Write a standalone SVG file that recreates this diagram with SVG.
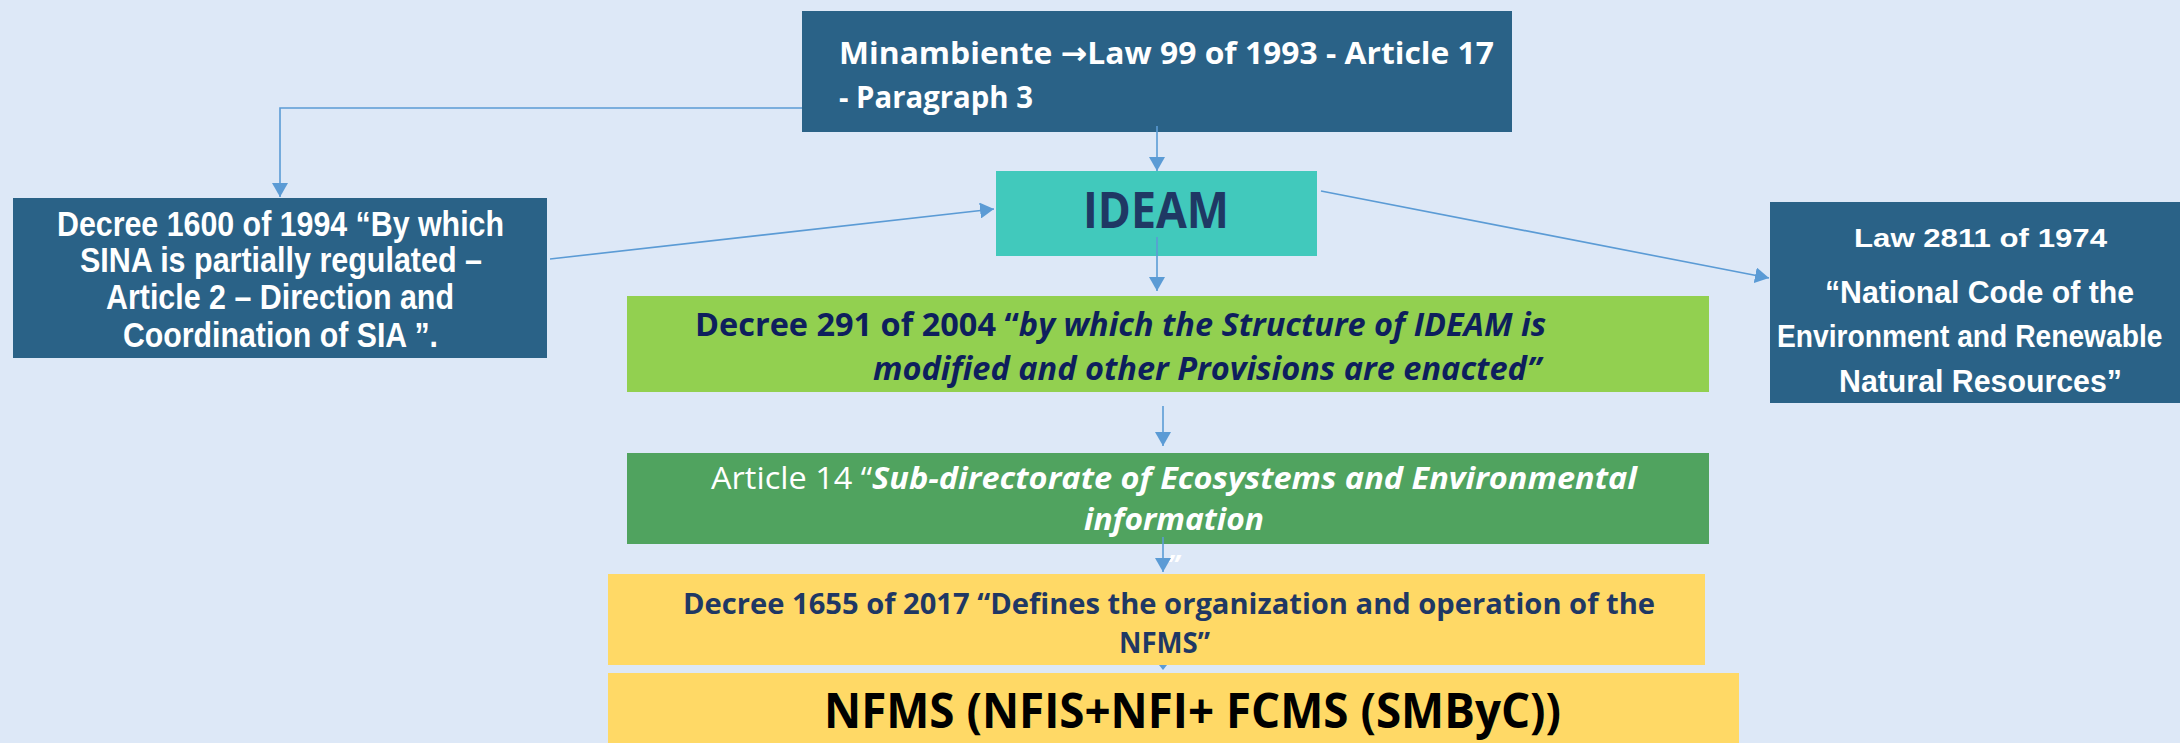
<svg xmlns="http://www.w3.org/2000/svg" width="2180" height="743" viewBox="0 0 2180 743">
<defs>
<style>
.dark{fill:#2A6287}
.cal{font-family:"Open Sans","Noto Sans",sans-serif;font-weight:bold}
.nar{font-family:"Liberation Sans",Arial,sans-serif;font-weight:bold;fill:#FFFFFF}
.conn{stroke:#5B9BD5;stroke-width:1.6;fill:none}
.it{font-style:italic}
.reg{font-weight:normal;font-style:normal}
.arw{font-family:"DejaVu Sans",sans-serif;font-weight:bold}
</style>
<marker id="ah" viewBox="0 0 14 16" refX="14" refY="8" markerWidth="14" markerHeight="16" markerUnits="userSpaceOnUse" orient="auto">
<path d="M0,0 L14,8 L0,16 z" fill="#5B9BD5"/>
</marker>
</defs>
<rect x="0" y="0" width="2180" height="743" fill="#DDE8F7"/>

<g id="minambiente">
<rect class="dark" x="802" y="11" width="710" height="121"/>
<text class="cal" x="839" y="64" font-size="31" fill="#FFFFFF" textLength="655" lengthAdjust="spacingAndGlyphs">Minambiente <tspan class="arw">→</tspan>Law 99 of 1993 - Article 17</text>
<text class="cal" x="839" y="108" font-size="31" fill="#FFFFFF" textLength="194" lengthAdjust="spacingAndGlyphs">- Paragraph 3</text>
</g>

<g id="ideam">
<rect x="996" y="171" width="321" height="85" fill="#41C9BC"/>
<text class="cal" x="1083" y="228" font-size="50" fill="#1F3864" textLength="146" lengthAdjust="spacingAndGlyphs">IDEAM</text>
</g>

<g id="decree1600">
<rect class="dark" x="13" y="198" width="534" height="160"/>
<text class="nar" x="57" y="236" font-size="35" textLength="447" lengthAdjust="spacingAndGlyphs">Decree 1600 of 1994 “By which</text>
<text class="nar" x="80" y="272" font-size="35" textLength="402" lengthAdjust="spacingAndGlyphs">SINA is partially regulated –</text>
<text class="nar" x="106" y="309" font-size="35" textLength="348" lengthAdjust="spacingAndGlyphs">Article 2 – Direction and</text>
<text class="nar" x="123" y="347" font-size="35" textLength="315" lengthAdjust="spacingAndGlyphs">Coordination of SIA ”.</text>
</g>

<g id="law2811">
<rect class="dark" x="1770" y="202" width="410" height="201"/>
<text class="nar" x="1854" y="247" font-size="26" textLength="253" lengthAdjust="spacingAndGlyphs">Law  2811 of 1974</text>
<text class="nar" x="1825" y="303" font-size="31" textLength="309" lengthAdjust="spacingAndGlyphs">“National Code of the</text>
<text class="nar" x="0" y="0" font-size="31" transform="translate(1777,347) scale(0.91,1)">Environment and Renewable</text>
<text class="nar" x="1839" y="392" font-size="31" textLength="283" lengthAdjust="spacingAndGlyphs">Natural Resources”</text>
</g>

<g id="decree291">
<rect x="627" y="296" width="1082" height="96" fill="#92D050"/>
<text class="cal" x="695" y="336" font-size="32" fill="#0E1F5D" textLength="851" lengthAdjust="spacingAndGlyphs">Decree 291 of 2004 “<tspan class="it">by which the Structure of IDEAM is</tspan></text>
<text class="cal it" x="873" y="380" font-size="32" fill="#0E1F5D" textLength="668" lengthAdjust="spacingAndGlyphs">modified and other Provisions are enacted”</text>
</g>

<g id="article14">
<rect x="627" y="453" width="1082" height="91" fill="#50A35F"/>
<text class="cal" x="711" y="489" font-size="31" fill="#FFFFFF" textLength="926" lengthAdjust="spacingAndGlyphs"><tspan class="reg">Article 14 “</tspan><tspan class="it">Sub-directorate of Ecosystems and Environmental</tspan></text>
<text class="cal it" x="1084" y="530" font-size="31" fill="#FFFFFF" textLength="180" lengthAdjust="spacingAndGlyphs">information</text>
<text class="cal it" x="1167" y="576" font-size="28" fill="#FFFFFF">”</text>
</g>

<g id="decree1655">
<rect x="608" y="574" width="1097" height="91" fill="#FFD966"/>
<text class="cal" x="683" y="614" font-size="29" fill="#1F3864" textLength="972" lengthAdjust="spacingAndGlyphs">Decree 1655 of 2017 “Defines the organization and operation of the</text>
<text class="cal" x="1119" y="653" font-size="29" fill="#1F3864" textLength="91" lengthAdjust="spacingAndGlyphs">NFMS”</text>
</g>

<g id="nfms">
<rect x="608" y="673" width="1131" height="80" fill="#FFD966"/>
<text class="cal" x="824" y="728" font-size="48" fill="#000000" textLength="737" lengthAdjust="spacingAndGlyphs">NFMS (NFIS+NFI+ FCMS (SMByC))</text>
</g>

<g id="connectors">
<polyline class="conn" points="802,108 280,108 280,197" marker-end="url(#ah)"/>
<line class="conn" x1="1157" y1="126" x2="1157" y2="171" marker-end="url(#ah)"/>
<line class="conn" x1="550" y1="259" x2="994" y2="209" marker-end="url(#ah)"/>
<line class="conn" x1="1321" y1="191" x2="1769" y2="278" marker-end="url(#ah)"/>
<line class="conn" x1="1157" y1="237" x2="1157" y2="291" marker-end="url(#ah)"/>
<line class="conn" x1="1163" y1="406" x2="1163" y2="446" marker-end="url(#ah)"/>
<line class="conn" x1="1163" y1="537" x2="1163" y2="572" marker-end="url(#ah)"/>
<path d="M1159,665 L1167,665 L1163,670 z" fill="#5B9BD5"/>
</g>
</svg>
